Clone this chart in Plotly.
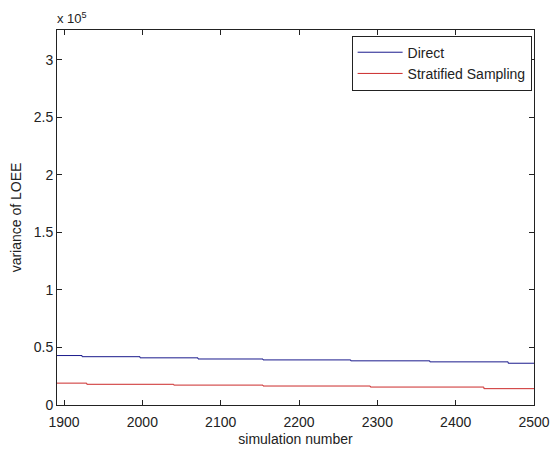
import plotly.graph_objects as go

# Step breakpoints (simulation number, variance)
direct_x = [1891, 1923, 1997, 2071, 2154, 2266, 2367, 2467, 2500]
direct_y = [43000, 42000, 41000, 40000, 39200, 38400, 37500, 36300, 36300]
strat_x = [1891, 1929, 2040, 2154, 2291, 2436, 2500]
strat_y = [19000, 18000, 17300, 16500, 15600, 14200, 14200]

y_tickvals = [0, 50000, 100000, 150000, 200000, 250000, 300000]
y_ticktext = ["0", "0.5", "1", "1.5", "2", "2.5", "3"]
x_tickvals = [1900, 2000, 2100, 2200, 2300, 2400, 2500]

font = "Liberation Sans, Arial, sans-serif"
fc = "#222222"

fig = go.Figure()
fig.add_trace(go.Scatter(x=direct_x, y=direct_y, mode="lines", line_shape="hv",
                         name="Direct", line=dict(color="#1a1a8c", width=1)))
fig.add_trace(go.Scatter(x=strat_x, y=strat_y, mode="lines", line_shape="hv",
                         name="Stratified Sampling", line=dict(color="#cc2b2b", width=1)))

axis_common = dict(showline=True, linecolor=fc, linewidth=1, mirror="ticks",
                   ticks="inside", ticklen=5, tickcolor=fc, showgrid=False,
                   zeroline=False, automargin=False,
                   tickfont=dict(family=font, size=14, color=fc))

fig.update_xaxes(range=[1891, 2500], tickvals=x_tickvals, ticklabelstandoff=4,
                 title=dict(text="simulation number", font=dict(family=font, size=14, color=fc), standoff=5),
                 **axis_common)
fig.update_yaxes(range=[0, 326000], tickvals=y_tickvals, ticktext=y_ticktext,
                 title=dict(text="variance of LOEE", font=dict(family=font, size=14, color=fc), standoff=8),
                 **axis_common)

fig.add_annotation(text="x 10<sup>5</sup>", xref="paper", yref="paper", x=-0.005, y=1.0,
                   xanchor="left", yanchor="bottom", showarrow=False, yshift=2,
                   font=dict(family=font, size=13, color=fc))

fig.update_layout(
    width=550, height=451,
    margin=dict(l=57, r=16, t=30, b=46),
    paper_bgcolor="white", plot_bgcolor="white",
    font=dict(family=font, size=14, color=fc),
    legend=dict(x=0.995, y=0.985, xanchor="right", yanchor="top",
                bordercolor=fc, borderwidth=1, bgcolor="white",
                font=dict(family=font, size=14, color=fc),
                tracegroupgap=0, itemwidth=45),
    showlegend=True,
)

fig.write_html("out.html")
